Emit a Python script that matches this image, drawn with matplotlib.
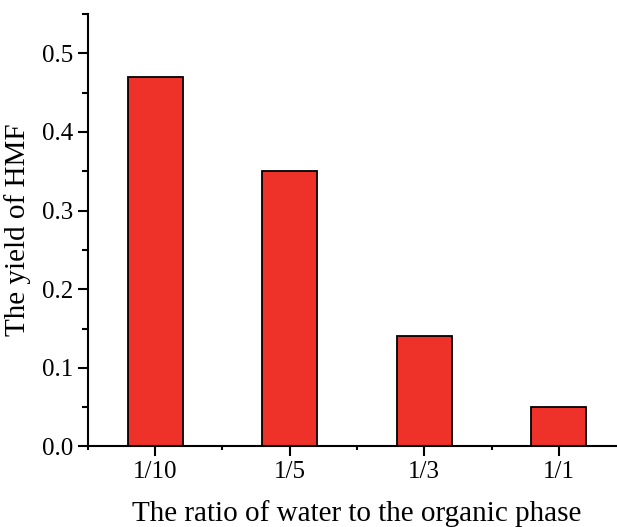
import matplotlib.pyplot as plt
from matplotlib.ticker import MultipleLocator

# data
ratios = ['1/10', '1/5', '1/3', '1/1']
yields = [0.47, 0.35, 0.14, 0.05]

plt.rcParams['font.family'] = ['Liberation Serif', 'DejaVu Serif']

fig = plt.figure(figsize=(6.17, 5.27), dpi=100)
ax = fig.add_axes([0.1426, 0.1528, 0.872, 0.8206])

x = range(len(ratios))
ax.bar(x, yields, width=0.41, color='#EE3129', edgecolor='black', linewidth=1.3)

ax.set_xlim(-0.5, 3.5)
ax.set_ylim(0, 0.55)
ax.set_xticks(list(x))
ax.set_xticklabels(ratios)
ax.xaxis.set_minor_locator(MultipleLocator(0.5))
ax.yaxis.set_major_locator(MultipleLocator(0.1))
ax.yaxis.set_minor_locator(MultipleLocator(0.05))
ax.yaxis.set_major_formatter(plt.FormatStrFormatter('%.1f'))

for side in ['top', 'right']:
    ax.spines[side].set_visible(False)
for side in ['left', 'bottom']:
    ax.spines[side].set_linewidth(1.5)

ax.tick_params(which='major', direction='out', length=7, width=1.5, labelsize=18)
ax.tick_params(which='minor', direction='out', length=4, width=1.5)
ax.tick_params(axis='x', which='minor', length=3)

ax.set_xlabel('The ratio of water to the organic phase', fontsize=21, labelpad=12)
ax.set_ylabel('The yield of HMF', fontsize=21, labelpad=8)

plt.savefig('out.png', dpi=100)
